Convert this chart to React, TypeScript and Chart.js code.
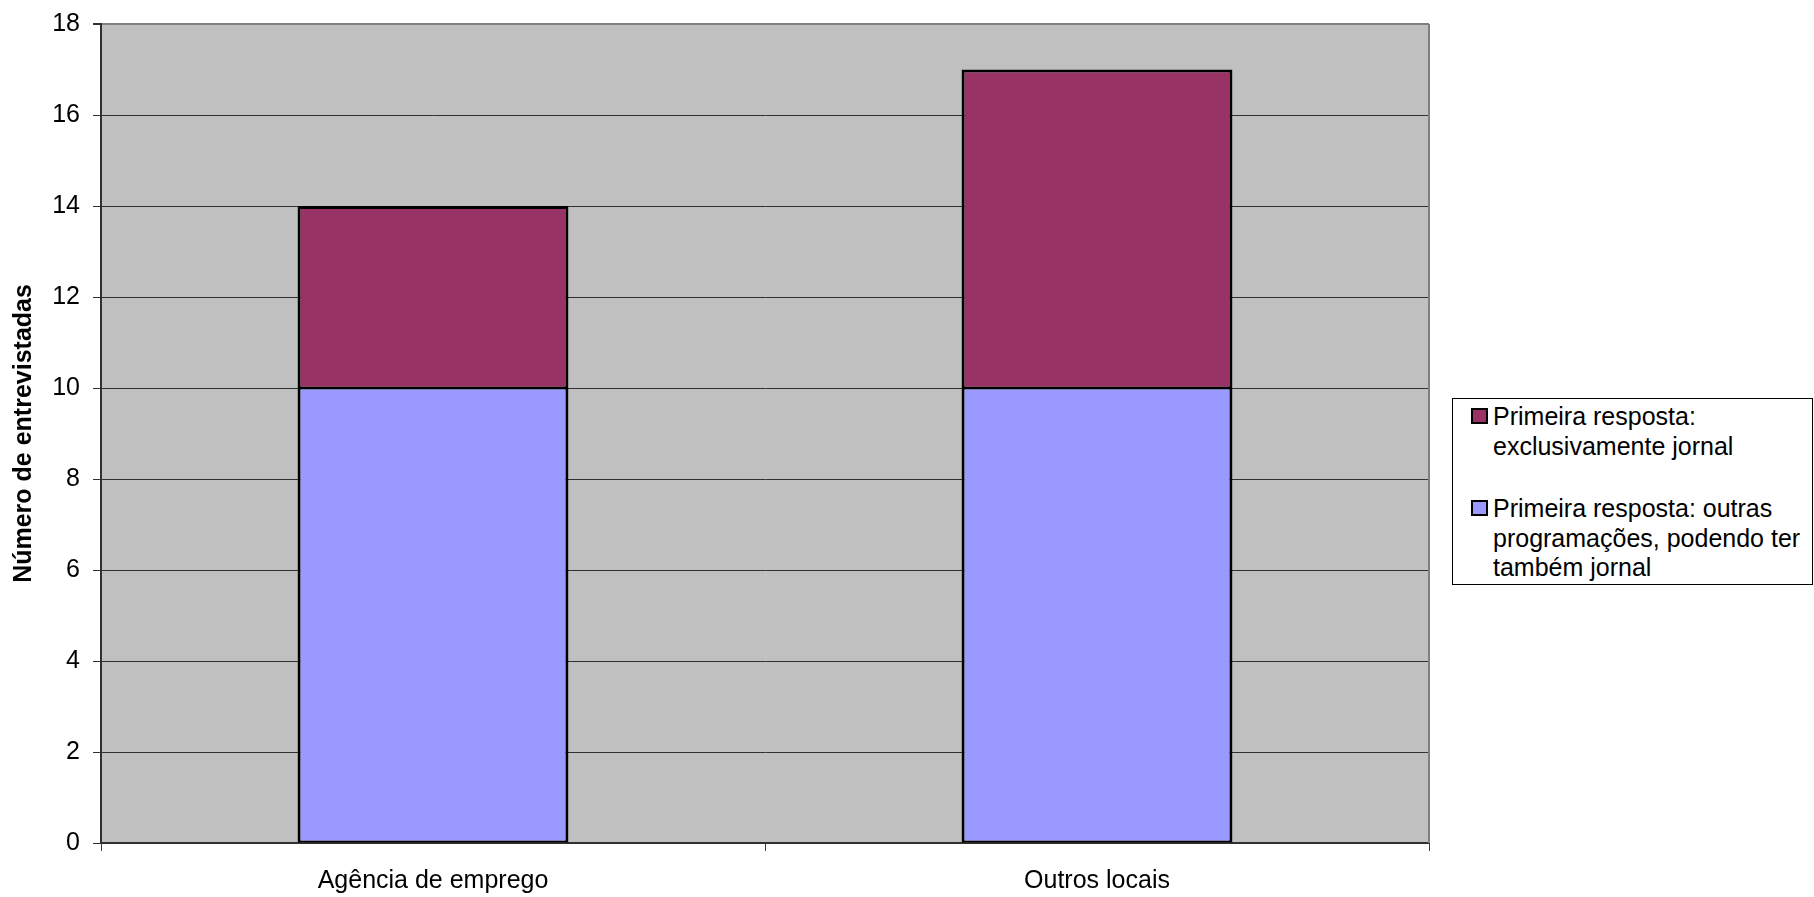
import React, { useEffect, useRef } from "react";
import { Chart, registerables } from "chart.js";

Chart.register(...registerables);

const categories = ["Agência de emprego", "Outros locais"];
const outrasValues = [10, 10];
const jornalValues = [4, 7];
const outrasLabel = "Primeira resposta: outras programações, podendo ter também jornal";
const jornalLabel = "Primeira resposta: exclusivamente jornal";
const yTitle = "Número de entrevistadas";
const yMax = 18;
const yStep = 2;

const FONT = "'Liberation Sans', Arial, sans-serif";
const COLOR_JORNAL = "#993366";
const COLOR_OUTRAS = "#9999FF";

export default function App() {
  const canvasRef = useRef<HTMLCanvasElement | null>(null);

  useEffect(() => {
    if (!canvasRef.current) return;
    const bgPlugin = {
      id: "bgPlugin",
      beforeDraw(chart: any) {
        const { ctx, chartArea } = chart;
        ctx.save();
        ctx.fillStyle = "#C0C0C0";
        ctx.fillRect(chartArea.left, chartArea.top, chartArea.right - chartArea.left, chartArea.bottom - chartArea.top);
        ctx.restore();
      },
      afterDraw(chart: any) {
        const { ctx, chartArea } = chart;
        ctx.save();
        ctx.strokeStyle = "#808080";
        ctx.lineWidth = 2;
        ctx.beginPath();
        ctx.moveTo(chartArea.right, chartArea.top);
        ctx.lineTo(chartArea.right, chartArea.bottom);
        ctx.stroke();
        ctx.translate(24, (chartArea.top + chartArea.bottom) / 2);
        ctx.rotate(-Math.PI / 2);
        ctx.font = `bold 25px ${FONT}`;
        ctx.fillStyle = "#000";
        ctx.textAlign = "center";
        ctx.textBaseline = "middle";
        ctx.fillText(yTitle, 0, 0);
        ctx.restore();
      },
    };

    const chart = new Chart(canvasRef.current, {
      type: "bar",
      data: {
        labels: categories,
        datasets: [
          {
            label: outrasLabel,
            data: outrasValues,
            backgroundColor: COLOR_OUTRAS,
            borderColor: "#000",
            borderWidth: { top: 1.5, left: 3, right: 3, bottom: 2 },
            borderSkipped: false,
            categoryPercentage: 1,
            barPercentage: 0.408,
          },
          {
            label: jornalLabel,
            data: jornalValues,
            backgroundColor: COLOR_JORNAL,
            borderColor: "#000",
            borderWidth: { top: 3, left: 3, right: 3, bottom: 1.5 },
            borderSkipped: false,
            categoryPercentage: 1,
            barPercentage: 0.408,
          },
        ],
      },
      options: {
        responsive: false,
        animation: false,
        devicePixelRatio: 1,
        layout: { padding: { top: 24, right: 385, left: 0, bottom: 0 } },
        plugins: {
          legend: { display: false },
          tooltip: { enabled: false },
        },
        scales: {
          x: {
            stacked: true,
            grid: {
              offset: true,
              drawOnChartArea: false,
              tickColor: "#404040",
              tickLength: 8,
            },
            border: { color: "#303030", width: 2 },
            ticks: {
              font: { family: FONT, size: 25 },
              color: "#000",
              padding: 15,
            },
            afterFit(scale: any) {
              scale.height = 54;
              scale.paddingLeft = 0;
              scale.paddingRight = 0;
            },
          },
          y: {
            stacked: true,
            min: 0,
            max: yMax,
            ticks: {
              stepSize: yStep,
              font: { family: FONT, size: 25 },
              color: "#000",
              padding: 13,
            },
            grid: {
              color: (ctx: any) => (ctx.tick && ctx.tick.value === yMax ? "#808080" : "#303030"),
              lineWidth: (ctx: any) => (ctx.tick && ctx.tick.value === yMax ? 2 : 1),
              tickColor: "#303030",
              tickLength: 8,
            },
            border: { color: "#303030", width: 2 },
            afterFit(scale: any) {
              scale.width = 101;
              scale.paddingTop = 0;
              scale.paddingBottom = 0;
            },
          },
        },
      },
      plugins: [bgPlugin],
    });
    return () => chart.destroy();
  }, []);

  const textStyle: React.CSSProperties = {
    fontFamily: FONT,
    fontSize: 25,
    lineHeight: "29.5px",
    color: "#000",
  };
  const markerStyle = (c: string): React.CSSProperties => ({
    position: "absolute",
    left: 0,
    top: 6,
    width: 17,
    height: 16,
    boxSizing: "border-box",
    background: c,
    border: "2.5px solid #000",
  });

  return (
    <div style={{ position: "absolute", left: 0, top: 0, width: 1814, height: 897, background: "#fff" }}>
      <canvas ref={canvasRef} width={1814} height={897} style={{ display: "block", width: 1814, height: 897 }} />
      <div
        style={{
          position: "absolute",
          left: 1452,
          top: 398,
          width: 361,
          height: 187,
          boxSizing: "border-box",
          border: "1px solid #000",
          background: "#fff",
        }}
      >
        <div style={{ position: "absolute", left: 18, top: 3 }}>
          <div style={markerStyle(COLOR_JORNAL)} />
          <div style={{ ...textStyle, marginLeft: 22, whiteSpace: "nowrap" }}>
            Primeira resposta:
            <br />
            exclusivamente jornal
          </div>
        </div>
        <div style={{ position: "absolute", left: 18, top: 95 }}>
          <div style={markerStyle(COLOR_OUTRAS)} />
          <div style={{ ...textStyle, marginLeft: 22, whiteSpace: "nowrap" }}>
            Primeira resposta: outras
            <br />
            programações, podendo ter
            <br />
            também jornal
          </div>
        </div>
      </div>
    </div>
  );
}
